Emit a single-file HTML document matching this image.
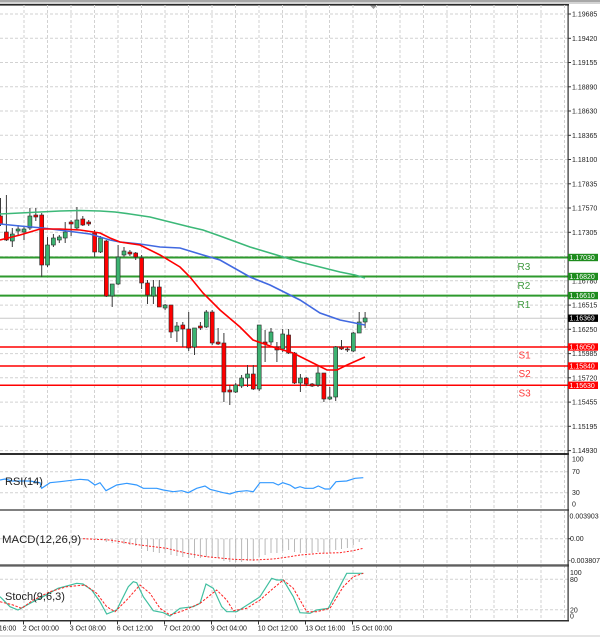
<!DOCTYPE html>
<html><head><meta charset="utf-8"><style>
html,body{margin:0;padding:0;background:#fff;}
svg{display:block;font-family:"Liberation Sans",sans-serif;}
.gd{stroke:#d2d2d2;stroke-width:1;stroke-dasharray:3 2;fill:none}
.w{stroke:#3a3a3a;stroke-width:1}
.g{fill:#3cb371;stroke:#2a2a2a;stroke-width:.6}
.r{fill:#ff0000;stroke:#2a2a2a;stroke-width:.6}
.ax{font-size:7px;fill:#222}
.tg{font-size:7px;fill:#fff}
.hb{stroke:#b8b8b8;stroke-width:1}
</style></head><body>
<svg width="600" height="637" viewBox="0 0 600 637" xmlns="http://www.w3.org/2000/svg">
<rect width="600" height="637" fill="#fff"/>
<!-- top bar -->
<rect x="0" y="0" width="600" height="2" fill="#a8a8a8"/>
<rect x="0" y="2" width="600" height="2" fill="#d4d4d4"/>
<rect x="0" y="4" width="569" height="1.6" fill="#2a2a2a"/>
<polygon points="370,5.5 377,5.5 373.5,9" fill="#999"/>
<rect x="0" y="635" width="600" height="2" fill="#e4e4e4"/>

<!-- horizontal grid main -->
<g class="gd">
<line x1="0" y1="14" x2="568" y2="14"/>
<line x1="0" y1="38.3" x2="568" y2="38.3"/>
<line x1="0" y1="62.5" x2="568" y2="62.5"/>
<line x1="0" y1="86.8" x2="568" y2="86.8"/>
<line x1="0" y1="111" x2="568" y2="111"/>
<line x1="0" y1="135.3" x2="568" y2="135.3"/>
<line x1="0" y1="159.5" x2="568" y2="159.5"/>
<line x1="0" y1="183.8" x2="568" y2="183.8"/>
<line x1="0" y1="208" x2="568" y2="208"/>
<line x1="0" y1="232.3" x2="568" y2="232.3"/>
<line x1="0" y1="256.6" x2="568" y2="256.6"/>
<line x1="0" y1="280.8" x2="568" y2="280.8"/>
<line x1="0" y1="305.1" x2="568" y2="305.1"/>
<line x1="0" y1="329.3" x2="568" y2="329.3"/>
<line x1="0" y1="353.6" x2="568" y2="353.6"/>
<line x1="0" y1="377.8" x2="568" y2="377.8"/>
<line x1="0" y1="402.1" x2="568" y2="402.1"/>
<line x1="0" y1="426.3" x2="568" y2="426.3"/>
<line x1="0" y1="450.6" x2="568" y2="450.6"/>
<!-- indicator grid -->
<line x1="0" y1="471.7" x2="568" y2="471.7"/>
<line x1="0" y1="492.7" x2="568" y2="492.7"/>
<line x1="0" y1="538.7" x2="568" y2="538.7"/>
<line x1="0" y1="579.3" x2="568" y2="579.3"/>
<line x1="0" y1="609.7" x2="568" y2="609.7"/>
<!-- vertical grid -->
<line x1="24" y1="5" x2="24" y2="620"/>
<line x1="47.5" y1="5" x2="47.5" y2="620"/>
<line x1="71" y1="5" x2="71" y2="620"/>
<line x1="94.5" y1="5" x2="94.5" y2="620"/>
<line x1="118" y1="5" x2="118" y2="620"/>
<line x1="141.5" y1="5" x2="141.5" y2="620"/>
<line x1="165" y1="5" x2="165" y2="620"/>
<line x1="188.5" y1="5" x2="188.5" y2="620"/>
<line x1="212" y1="5" x2="212" y2="620"/>
<line x1="235.5" y1="5" x2="235.5" y2="620"/>
<line x1="259" y1="5" x2="259" y2="620"/>
<line x1="282.5" y1="5" x2="282.5" y2="620"/>
<line x1="306" y1="5" x2="306" y2="620"/>
<line x1="329.5" y1="5" x2="329.5" y2="620"/>
<line x1="353" y1="5" x2="353" y2="620"/>
<line x1="376.5" y1="5" x2="376.5" y2="620"/>
<line x1="400" y1="5" x2="400" y2="620"/>
<line x1="423.5" y1="5" x2="423.5" y2="620"/>
<line x1="447" y1="5" x2="447" y2="620"/>
<line x1="470.5" y1="5" x2="470.5" y2="620"/>
<line x1="494" y1="5" x2="494" y2="620"/>
<line x1="517.5" y1="5" x2="517.5" y2="620"/>
<line x1="541" y1="5" x2="541" y2="620"/>
<line x1="564.5" y1="5" x2="564.5" y2="620"/>
</g>

<!-- last price line -->
<line x1="0" y1="318.2" x2="568" y2="318.2" stroke="#c8c8c8" stroke-width="1"/>

<!-- levels -->
<g stroke="#2e9a2e" stroke-width="2">
<line x1="0" y1="257.5" x2="568" y2="257.5"/>
<line x1="0" y1="276.5" x2="568" y2="276.5"/>
<line x1="0" y1="295.6" x2="568" y2="295.6"/>
</g>
<g stroke="#ff0000" stroke-width="1.5">
<line x1="0" y1="347" x2="568" y2="347"/>
<line x1="0" y1="366" x2="568" y2="366"/>
<line x1="0" y1="385.3" x2="568" y2="385.3"/>
</g>
<g font-size="10" fill="#3f9a3f">
<text x="517.5" y="270">R3</text>
<text x="517.5" y="289">R2</text>
<text x="517.5" y="308">R1</text>
</g>
<g font-size="10" fill="#ff3a3a">
<text x="518.5" y="358.3">S1</text>
<text x="518.5" y="377">S2</text>
<text x="518.5" y="396.6">S3</text>
</g>

<!-- candles -->
<g>
<line class="w" x1="0.5" y1="198" x2="0.5" y2="226"/><rect class="r" x="-1.5" y="216" width="4" height="8"/>
<line class="w" x1="6.4" y1="195" x2="6.4" y2="241"/><rect class="r" x="4.4" y="232" width="4" height="8"/>
<line class="w" x1="12.3" y1="228" x2="12.3" y2="247"/><rect class="g" x="10.3" y="234" width="4" height="7"/>
<line class="w" x1="18.1" y1="225" x2="18.1" y2="235"/><rect class="g" x="16.1" y="229" width="4" height="2"/>
<line class="w" x1="24" y1="226" x2="24" y2="240"/><rect class="g" x="22" y="229" width="4" height="3"/>
<line class="w" x1="29.9" y1="208" x2="29.9" y2="230"/><rect class="g" x="27.9" y="216" width="4" height="12"/>
<line class="w" x1="35.8" y1="208" x2="35.8" y2="221"/><rect class="r" x="33.8" y="215" width="4" height="2"/>
<line class="w" x1="41.7" y1="213" x2="41.7" y2="277"/><rect class="r" x="39.7" y="215" width="4" height="50"/>
<line class="w" x1="47.5" y1="237" x2="47.5" y2="267"/><rect class="g" x="45.5" y="245" width="4" height="20"/>
<line class="w" x1="53.4" y1="234" x2="53.4" y2="247"/><rect class="g" x="51.4" y="238" width="4" height="7"/>
<line class="w" x1="59.3" y1="235" x2="59.3" y2="243"/><rect class="g" x="57.3" y="237" width="4" height="3"/>
<line class="w" x1="65.2" y1="222" x2="65.2" y2="243"/><rect class="g" x="63.2" y="232" width="4" height="6"/>
<line class="w" x1="71.1" y1="220" x2="71.1" y2="236"/><rect class="r" x="69.1" y="222" width="4" height="2"/>
<line class="w" x1="76.9" y1="207" x2="76.9" y2="230"/><rect class="g" x="74.9" y="220" width="4" height="8"/>
<line class="w" x1="82.8" y1="216" x2="82.8" y2="226"/><rect class="r" x="80.8" y="219" width="4" height="6"/>
<line class="w" x1="88.7" y1="220" x2="88.7" y2="226"/><rect class="r" x="86.7" y="222" width="4" height="2"/>
<line class="w" x1="94.6" y1="230" x2="94.6" y2="257"/><rect class="r" x="92.6" y="233" width="4" height="19"/>
<line class="w" x1="100.5" y1="236" x2="100.5" y2="253"/><rect class="g" x="98.5" y="238" width="4" height="14"/>
<line class="w" x1="106.3" y1="240" x2="106.3" y2="297"/><rect class="r" x="104.3" y="241" width="4" height="55"/>
<line class="w" x1="112.2" y1="284" x2="112.2" y2="307"/><rect class="g" x="110.2" y="284" width="4" height="12"/>
<line class="w" x1="118.1" y1="245" x2="118.1" y2="285"/><rect class="g" x="116.1" y="257" width="4" height="27"/>
<line class="w" x1="124" y1="247" x2="124" y2="257"/><rect class="g" x="122" y="251" width="4" height="4"/>
<line class="w" x1="129.9" y1="250" x2="129.9" y2="256"/><rect class="r" x="127.9" y="252" width="4" height="2"/>
<line class="w" x1="135.7" y1="252" x2="135.7" y2="260"/><rect class="r" x="133.7" y="253" width="4" height="4"/>
<line class="w" x1="141.6" y1="255" x2="141.6" y2="289"/><rect class="r" x="139.6" y="258" width="4" height="25"/>
<line class="w" x1="147.5" y1="280" x2="147.5" y2="304"/><rect class="r" x="145.5" y="283" width="4" height="12"/>
<line class="w" x1="153.4" y1="280" x2="153.4" y2="304"/><rect class="g" x="151.4" y="287" width="4" height="9"/>
<line class="w" x1="159.3" y1="280" x2="159.3" y2="307"/><rect class="r" x="157.3" y="287" width="4" height="20"/>
<line class="w" x1="165.1" y1="304" x2="165.1" y2="310"/><rect class="g" x="163.1" y="305" width="4" height="3"/>
<line class="w" x1="171" y1="305" x2="171" y2="338"/><rect class="r" x="169" y="305" width="4" height="27"/>
<line class="w" x1="176.9" y1="322" x2="176.9" y2="342"/><rect class="g" x="174.9" y="326" width="4" height="5"/>
<line class="w" x1="182.8" y1="322" x2="182.8" y2="347"/><rect class="r" x="180.8" y="325" width="4" height="4"/>
<line class="w" x1="188.7" y1="312" x2="188.7" y2="351"/><rect class="r" x="186.7" y="329" width="4" height="19"/>
<line class="w" x1="194.5" y1="328" x2="194.5" y2="355"/><rect class="g" x="192.5" y="328" width="4" height="19"/>
<line class="w" x1="200.4" y1="322" x2="200.4" y2="330"/><rect class="r" x="198.4" y="326" width="4" height="2"/>
<line class="w" x1="206.3" y1="310" x2="206.3" y2="328"/><rect class="g" x="204.3" y="312" width="4" height="15"/>
<line class="w" x1="212.2" y1="310" x2="212.2" y2="345"/><rect class="r" x="210.2" y="312" width="4" height="31"/>
<line class="w" x1="218.1" y1="328" x2="218.1" y2="345"/><rect class="r" x="216.1" y="342" width="4" height="2"/>
<line class="w" x1="223.9" y1="333" x2="223.9" y2="402"/><rect class="r" x="221.9" y="343" width="4" height="49"/>
<line class="w" x1="229.8" y1="385" x2="229.8" y2="405"/><rect class="r" x="227.8" y="390" width="4" height="2"/>
<line class="w" x1="235.7" y1="383" x2="235.7" y2="393"/><rect class="g" x="233.7" y="385" width="4" height="7"/>
<line class="w" x1="241.6" y1="375" x2="241.6" y2="388"/><rect class="g" x="239.6" y="378" width="4" height="8"/>
<line class="w" x1="247.5" y1="365" x2="247.5" y2="387"/><rect class="g" x="245.5" y="374" width="4" height="4"/>
<line class="w" x1="253.3" y1="365" x2="253.3" y2="390"/><rect class="r" x="251.3" y="374" width="4" height="15"/>
<line class="w" x1="259.2" y1="325" x2="259.2" y2="391"/><rect class="g" x="257.2" y="325" width="4" height="64"/>
<line class="w" x1="265.1" y1="330" x2="265.1" y2="362"/><rect class="r" x="263.1" y="342" width="4" height="2"/>
<line class="w" x1="271" y1="328" x2="271" y2="345"/><rect class="g" x="269" y="332" width="4" height="10"/>
<line class="w" x1="276.9" y1="342" x2="276.9" y2="362"/><rect class="r" x="274.9" y="347" width="4" height="3"/>
<line class="w" x1="282.7" y1="329" x2="282.7" y2="352"/><rect class="g" x="280.7" y="334" width="4" height="15"/>
<line class="w" x1="288.6" y1="329" x2="288.6" y2="354"/><rect class="r" x="286.6" y="335" width="4" height="18"/>
<line class="w" x1="294.5" y1="352" x2="294.5" y2="384"/><rect class="r" x="292.5" y="353" width="4" height="30"/>
<line class="w" x1="300.4" y1="374" x2="300.4" y2="392"/><rect class="g" x="298.4" y="378" width="4" height="5"/>
<line class="w" x1="306.3" y1="377" x2="306.3" y2="386"/><rect class="r" x="304.3" y="378" width="4" height="6"/>
<line class="w" x1="312.1" y1="383" x2="312.1" y2="387"/><rect class="r" x="310.1" y="384" width="4" height="2"/>
<line class="w" x1="318" y1="365" x2="318" y2="387"/><rect class="g" x="316" y="373" width="4" height="12"/>
<line class="w" x1="323.9" y1="373" x2="323.9" y2="402"/><rect class="r" x="321.9" y="373" width="4" height="26"/>
<line class="w" x1="329.8" y1="387" x2="329.8" y2="400"/><rect class="g" x="327.8" y="397" width="4" height="2"/>
<line class="w" x1="335.7" y1="346" x2="335.7" y2="401"/><rect class="g" x="333.7" y="347" width="4" height="50"/>
<line class="w" x1="341.5" y1="340" x2="341.5" y2="350"/><rect class="r" x="339.5" y="347" width="4" height="2"/>
<line class="w" x1="347.4" y1="347" x2="347.4" y2="352"/><rect class="r" x="345.4" y="349" width="4" height="1"/>
<line class="w" x1="353.3" y1="332" x2="353.3" y2="352"/><rect class="g" x="351.3" y="333" width="4" height="18"/>
<line class="w" x1="359.2" y1="312" x2="359.2" y2="333"/><rect class="g" x="357.2" y="322" width="4" height="11"/>
<line class="w" x1="365.1" y1="312" x2="365.1" y2="328"/><rect class="g" x="363.1" y="318" width="4" height="4"/>
</g>

<!-- moving averages -->
<polyline fill="none" stroke="#3cb878" stroke-width="1.6" points="0,214 20,213 40,212 60,211 80,210.5 100,211 115,212 130,214 150,217 170,222 190,227 203,230 220,236 250,247 280,256 300,262 320,267 340,272 355,275 365,278"/>
<polyline fill="none" stroke="#4169e1" stroke-width="1.6" points="0,224 20,226 43,228 67,231 90,234 110,240 120,242 140,244 160,247 180,248 203,255 220,260 250,277 270,285 300,300 320,313 340,320 365,325"/>
<polyline fill="none" stroke="#ff0000" stroke-width="1.6" points="0,240 10,237.5 20,235 30,232 40,229 60,229 80,230 100,233 110,238 120,242 140,245 160,255 180,267 190,277 203,293 220,310 240,327 253,340 273,347 293,353 317,365 327,370 337,370 347,365 365,357"/>

<!-- RSI -->
<polyline fill="none" stroke="#3399ff" stroke-width="1.2" points="0,480 5,479 12,481 30,481 40,482.7 41.7,488.3 50,482.7 60,481.7 80,479.3 88,480 95,485 100,482.7 106,490.7 116.7,485 126.7,483.3 136.7,485 143.3,488.3 156.7,488.3 163.3,490 173.3,491.7 181.7,490.7 188.3,492.7 196.7,488.3 205,486 210,489.3 223.3,492.7 230,494 236.7,491.7 246.7,490.7 253.3,491.7 260,482.7 273.3,482.7 278.3,485 282.7,482.7 290,485 295,488.3 300,486.7 305,488.3 313.3,488.3 318.3,486 325,489 330,489 336,481.7 346.7,481 355,478.3 363.3,477.7"/>
<text x="5" y="485" font-size="11" fill="#222">RSI(14)</text>

<!-- MACD histogram -->
<g class="hb">
<line x1="106.3" y1="538.7" x2="106.3" y2="542"/>
<line x1="112.2" y1="538.7" x2="112.2" y2="543"/>
<line x1="118.1" y1="538.7" x2="118.1" y2="544"/>
<line x1="124" y1="538.7" x2="124" y2="544"/>
<line x1="129.9" y1="538.7" x2="129.9" y2="545"/>
<line x1="135.7" y1="538.7" x2="135.7" y2="546"/>
<line x1="141.6" y1="538.7" x2="141.6" y2="549"/>
<line x1="147.5" y1="538.7" x2="147.5" y2="551"/>
<line x1="153.4" y1="538.7" x2="153.4" y2="552"/>
<line x1="159.3" y1="538.7" x2="159.3" y2="553"/>
<line x1="165.1" y1="538.7" x2="165.1" y2="553"/>
<line x1="171" y1="538.7" x2="171" y2="555"/>
<line x1="176.9" y1="538.7" x2="176.9" y2="556"/>
<line x1="182.8" y1="538.7" x2="182.8" y2="557"/>
<line x1="188.7" y1="538.7" x2="188.7" y2="558"/>
<line x1="194.5" y1="538.7" x2="194.5" y2="558"/>
<line x1="200.4" y1="538.7" x2="200.4" y2="558"/>
<line x1="206.3" y1="538.7" x2="206.3" y2="557"/>
<line x1="212.2" y1="538.7" x2="212.2" y2="558"/>
<line x1="218.1" y1="538.7" x2="218.1" y2="558"/>
<line x1="223.9" y1="538.7" x2="223.9" y2="561"/>
<line x1="229.8" y1="538.7" x2="229.8" y2="562"/>
<line x1="235.7" y1="538.7" x2="235.7" y2="562"/>
<line x1="241.6" y1="538.7" x2="241.6" y2="562"/>
<line x1="247.5" y1="538.7" x2="247.5" y2="561"/>
<line x1="253.3" y1="538.7" x2="253.3" y2="561"/>
<line x1="259.2" y1="538.7" x2="259.2" y2="557"/>
<line x1="265.1" y1="538.7" x2="265.1" y2="555"/>
<line x1="271" y1="538.7" x2="271" y2="553"/>
<line x1="276.9" y1="538.7" x2="276.9" y2="553"/>
<line x1="282.7" y1="538.7" x2="282.7" y2="551"/>
<line x1="288.6" y1="538.7" x2="288.6" y2="550"/>
<line x1="294.5" y1="538.7" x2="294.5" y2="552"/>
<line x1="300.4" y1="538.7" x2="300.4" y2="553"/>
<line x1="306.3" y1="538.7" x2="306.3" y2="553"/>
<line x1="312.1" y1="538.7" x2="312.1" y2="553"/>
<line x1="318" y1="538.7" x2="318" y2="552"/>
<line x1="323.9" y1="538.7" x2="323.9" y2="553"/>
<line x1="329.8" y1="538.7" x2="329.8" y2="553"/>
<line x1="335.7" y1="538.7" x2="335.7" y2="550"/>
<line x1="341.5" y1="538.7" x2="341.5" y2="549"/>
<line x1="347.4" y1="538.7" x2="347.4" y2="548"/>
<line x1="353.3" y1="538.7" x2="353.3" y2="545"/>
<line x1="359.2" y1="538.7" x2="359.2" y2="542"/>
<line x1="365.1" y1="538.7" x2="365.1" y2="540"/>
</g>
<polyline fill="none" stroke="#ff2020" stroke-width="1" stroke-dasharray="2 1.5" points="83,538.7 110,540 140,545 166.7,548.3 186.7,553.3 206.7,556.7 233.3,559.3 253.3,560 273.3,559 290,556.7 300,555 320,553.3 340,552.7 353,550.7 363.3,548.3"/>
<text x="2" y="543" font-size="11.4" fill="#222">MACD(12,26,9)</text>

<!-- Stoch -->
<polyline fill="none" stroke="#40bfa0" stroke-width="1.2" points="0,596.7 10,606.7 18,610 30,603.3 43,596.7 58,588.3 76.7,583.3 83,584 91.7,590 100,601.7 106.7,614 116.7,610 128.3,586.7 133.3,581.7 136.7,582.7 143.3,596.7 153.3,610.7 163.3,612.7 170,616 180,608.3 193.3,606.7 200,603.3 206,584 213.3,588.3 221.7,606.7 226.7,611.7 236.7,611.7 250,603.3 260,596.7 271.7,578.3 276.7,580 283.3,580 293.3,596.7 300,612.7 310,613.3 316.7,610 328.3,608.3 346.7,573.3 363.3,573.3"/>
<polyline fill="none" stroke="#ff2020" stroke-width="1" stroke-dasharray="2.5 1.5" points="0,601.7 13,605 21.7,608.3 33.3,600 50,591.7 66.7,586.7 85,585 96.7,593.3 106.7,606.7 115,611.7 126.7,600 140,585 150,593.3 160,608.3 170,615 183.3,610.7 200,603.3 216.7,590 226.7,600 233.3,610.7 246.7,608.3 260,600 273.3,588.3 283.3,580 293.3,588.3 300,600 306.7,611.7 316.7,611.7 330,608.3 343.3,586.7 353.3,576.7 363.3,573.3"/>
<text x="5" y="600" font-size="11" fill="#222">Stoch(9,6,3)</text>

<!-- panel separators / borders -->
<rect x="0" y="453" width="569" height="2" fill="#2e2e2e"/>
<rect x="0" y="509" width="569" height="2" fill="#808080"/>
<rect x="0" y="564" width="569" height="1.5" fill="#8a8a8a"/>
<rect x="0" y="565.5" width="569" height="1" fill="#333"/>
<rect x="0" y="620" width="569" height="1.5" fill="#2e2e2e"/>
<rect x="567.5" y="4" width="1.2" height="617.5" fill="#2e2e2e"/>

<!-- right axis ticks -->
<g stroke="#333" stroke-width="1">
<line x1="568" y1="14" x2="571" y2="14"/>
<line x1="568" y1="38.3" x2="571" y2="38.3"/>
<line x1="568" y1="62.5" x2="571" y2="62.5"/>
<line x1="568" y1="86.8" x2="571" y2="86.8"/>
<line x1="568" y1="111" x2="571" y2="111"/>
<line x1="568" y1="135.3" x2="571" y2="135.3"/>
<line x1="568" y1="159.5" x2="571" y2="159.5"/>
<line x1="568" y1="183.8" x2="571" y2="183.8"/>
<line x1="568" y1="208" x2="571" y2="208"/>
<line x1="568" y1="232.3" x2="571" y2="232.3"/>
<line x1="568" y1="305.1" x2="571" y2="305.1"/>
<line x1="568" y1="329.3" x2="571" y2="329.3"/>
<line x1="568" y1="353.6" x2="571" y2="353.6"/>
<line x1="568" y1="377.8" x2="571" y2="377.8"/>
<line x1="568" y1="402.1" x2="571" y2="402.1"/>
<line x1="568" y1="426.3" x2="571" y2="426.3"/>
<line x1="568" y1="450.6" x2="571" y2="450.6"/>
<line x1="568" y1="538.7" x2="571" y2="538.7"/>
</g>
<g class="ax">
<text x="572" y="16.5">1.19685</text>
<text x="572" y="40.8">1.19420</text>
<text x="572" y="65">1.19155</text>
<text x="572" y="89.3">1.18890</text>
<text x="572" y="113.5">1.18630</text>
<text x="572" y="137.8">1.18365</text>
<text x="572" y="162">1.18100</text>
<text x="572" y="186.3">1.17835</text>
<text x="572" y="210.5">1.17570</text>
<text x="572" y="234.8">1.17305</text>
<text x="572" y="283.3">1.16780</text>
<text x="572" y="307.6">1.16515</text>
<text x="572" y="331.8">1.16250</text>
<text x="572" y="356.1">1.15985</text>
<text x="572" y="380.3">1.15720</text>
<text x="572" y="404.6">1.15455</text>
<text x="572" y="428.8">1.15195</text>
<text x="572" y="453">1.14930</text>
<text x="572" y="461.5">100</text>
<text x="572" y="474.2">70</text>
<text x="572" y="495.2">30</text>
<text x="572" y="506.5">0</text>
<text x="569.5" y="518.5">0.003903</text>
<text x="570" y="541.2">0.00</text>
<text x="568.5" y="563.2">-0.003807</text>
<text x="570" y="575.2">100</text>
<text x="570" y="581.8">80</text>
<text x="570" y="612.5">20</text>
<text x="570" y="618.5">0</text>
</g>

<!-- price tags -->
<rect x="568" y="253.8" width="30" height="7.4" fill="#1e8c1e"/>
<text class="tg" x="569.5" y="260">1.17030</text>
<rect x="568" y="272.8" width="30" height="7.4" fill="#1e8c1e"/>
<text class="tg" x="569.5" y="279">1.16820</text>
<rect x="568" y="291.9" width="30" height="7.4" fill="#1e8c1e"/>
<text class="tg" x="569.5" y="298.1">1.16610</text>
<rect x="568" y="314.5" width="30" height="7.4" fill="#000"/>
<text class="tg" x="569.5" y="320.7">1.16369</text>
<rect x="568" y="343.3" width="30" height="7.4" fill="#ff0000"/>
<text class="tg" x="569.5" y="349.5">1.16050</text>
<rect x="568" y="362.3" width="30" height="7.4" fill="#ff0000"/>
<text class="tg" x="569.5" y="368.5">1.15840</text>
<rect x="568" y="381.6" width="30" height="7.4" fill="#ff0000"/>
<text class="tg" x="569.5" y="387.8">1.15630</text>

<!-- x axis -->
<g stroke="#333" stroke-width="1">
<line x1="23.5" y1="621" x2="23.5" y2="624.5"/>
<line x1="70.5" y1="621" x2="70.5" y2="624.5"/>
<line x1="117.5" y1="621" x2="117.5" y2="624.5"/>
<line x1="164.5" y1="621" x2="164.5" y2="624.5"/>
<line x1="211.5" y1="621" x2="211.5" y2="624.5"/>
<line x1="258.5" y1="621" x2="258.5" y2="624.5"/>
<line x1="305.5" y1="621" x2="305.5" y2="624.5"/>
<line x1="352.5" y1="621" x2="352.5" y2="624.5"/>
</g>
<g class="ax">
<text x="16.3" y="630.5" text-anchor="end">30 Sep 16:00</text>
<text x="22.7" y="630.5">2 Oct 00:00</text>
<text x="69.7" y="630.5">3 Oct 08:00</text>
<text x="116.7" y="630.5">6 Oct 12:00</text>
<text x="163.7" y="630.5">7 Oct 20:00</text>
<text x="210.7" y="630.5">9 Oct 04:00</text>
<text x="257.7" y="630.5">10 Oct 12:00</text>
<text x="305.2" y="630.5">13 Oct 16:00</text>
<text x="352" y="630.5">15 Oct 00:00</text>
</g>
</svg>
</body></html>
